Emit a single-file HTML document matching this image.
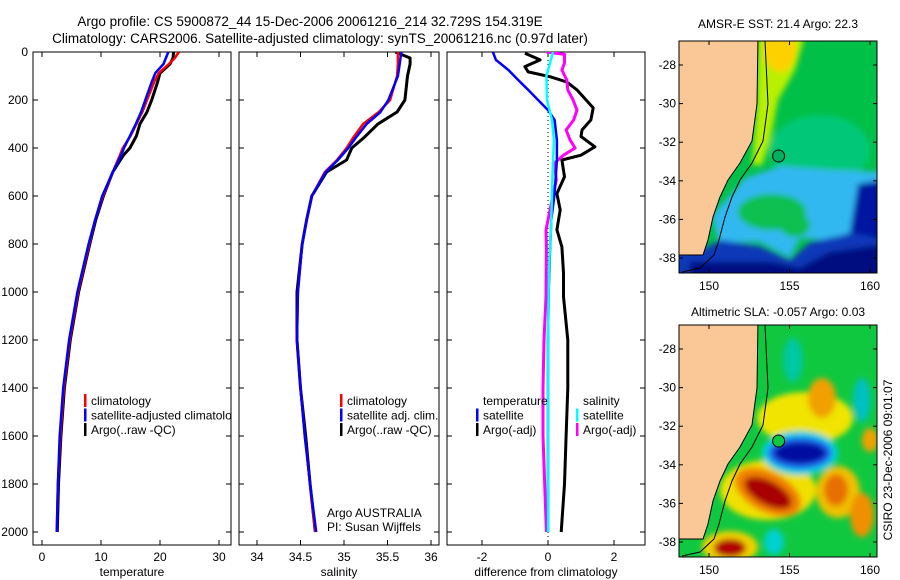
<!DOCTYPE html>
<html><head><meta charset="utf-8">
<style>
html,body{margin:0;padding:0;background:#fff;}
svg{display:block;font-family:"Liberation Sans",sans-serif;}
</style></head>
<body>
<svg id="fig" width="900" height="580" viewBox="0 0 900 580" xmlns="http://www.w3.org/2000/svg">
<defs>
<clipPath id="cp1"><rect x="33" y="52" width="198" height="493"/></clipPath>
<clipPath id="cp2"><rect x="239" y="52" width="200" height="493"/></clipPath>
<clipPath id="cp3"><rect x="447" y="52" width="198" height="493"/></clipPath>
<clipPath id="cm1"><rect x="679" y="41" width="198" height="232"/></clipPath>
<clipPath id="cm2"><rect x="679" y="325" width="198" height="232"/></clipPath>
<filter id="bl" x="-20%" y="-20%" width="140%" height="140%"><feGaussianBlur stdDeviation="3"/></filter>
</defs>
<text x="310" y="26" font-size="13.5" text-anchor="middle">Argo profile: CS 5900872_44 15-Dec-2006 20061216_214 32.729S 154.319E</text>
<text x="320" y="43" font-size="13.5" text-anchor="middle">Climatology: CARS2006. Satellite-adjusted climatology: synTS_20061216.nc (0.97d later)</text>

<!-- SST map -->
<g>
<text x="778" y="28" font-size="12" text-anchor="middle">AMSR-E SST: 21.4 Argo: 22.3</text>
<g clip-path="url(#cm1)">
<rect x="679" y="41" width="198" height="232" fill="#00c048"/>
<g filter="url(#bl)">
<ellipse cx="820" cy="150" rx="50" ry="35" fill="#00c878"/>
<polygon points="758,35 805,35 795,70 778,100 770,140 762,165 752,165 757,104" fill="#b8f000"/>
<ellipse cx="780" cy="50" rx="16" ry="22" fill="#ffd000"/>
<polygon points="745,178 780,166 830,170 885,172 885,245 800,238 790,258 760,242 718,242 712,215 735,190" fill="#30b8f0"/>
<ellipse cx="772" cy="212" rx="34" ry="18" fill="#10c050"/>
<ellipse cx="795" cy="225" rx="15" ry="12" fill="#10c050"/>
<polygon points="672,252 705,248 720,240 760,246 790,260 810,242 840,236 885,222 885,280 672,280" fill="#0838b8"/>
<polygon points="690,262 770,262 800,268 830,252 885,244 885,280 690,280" fill="#000c80"/>
<polygon points="858,184 885,180 885,240 850,232" fill="#0018a0"/>
</g>
<polygon points="672,35 758,35 757,104 752,141 740,163 728,180 720,197 713,217 708,240 703,255 679,255 672,255" fill="#fac896" stroke="#000" stroke-width="1"/>
<polyline points="765,41 768,104 763,141 752,163 740,180 732,197 725,217 719,240 714,255 700,268 682,272" fill="none" stroke="#000" stroke-width="1"/>
<circle cx="778.6" cy="156" r="6" fill="#00b060" stroke="#000" stroke-width="1"/>
</g>
<rect x="679" y="41" width="198" height="232" fill="none" stroke="#000" stroke-width="1"/>
</g>

<!-- SLA map -->
<g>
<text x="778" y="316" font-size="12" text-anchor="middle">Altimetric SLA: -0.057 Argo: 0.03</text>
<g clip-path="url(#cm2)">
<rect x="679" y="325" width="198" height="232" fill="#10c840"/>
<g filter="url(#bl)">
<ellipse cx="793" cy="360" rx="10" ry="22" fill="#00c8a0"/>
<ellipse cx="862" cy="400" rx="9" ry="22" fill="#00c0c0"/>
<ellipse cx="805" cy="418" rx="48" ry="26" fill="#f0e400"/>
<ellipse cx="822" cy="398" rx="14" ry="20" fill="#f0a000"/>
<ellipse cx="768" cy="490" rx="48" ry="30" fill="#f0e000"/>
<ellipse cx="768" cy="492" rx="36" ry="20" fill="#f08000" transform="rotate(28 768 492)"/>
<ellipse cx="768" cy="493" rx="26" ry="12" fill="#a80000" transform="rotate(28 768 493)"/>
<ellipse cx="838" cy="492" rx="22" ry="26" fill="#f0c000"/>
<ellipse cx="836" cy="490" rx="12" ry="16" fill="#e87000"/>
<ellipse cx="862" cy="515" rx="12" ry="22" fill="#f09000"/>
<ellipse cx="870" cy="440" rx="8" ry="12" fill="#f0a000"/>
<ellipse cx="730" cy="547" rx="28" ry="16" fill="#f0d000"/>
<ellipse cx="730" cy="548" rx="16" ry="9" fill="#b00000"/>
<ellipse cx="774" cy="542" rx="10" ry="13" fill="#00d0d0"/>
<ellipse cx="800" cy="453" rx="38" ry="22" fill="#00d0e0"/>
<ellipse cx="800" cy="453" rx="32" ry="16" fill="#2060f0"/>
<ellipse cx="800" cy="453" rx="26" ry="11" fill="#0010a0"/>
</g>
<polygon points="672,319 758,319 757,388 752,425 740,447 728,464 720,481 713,501 708,524 703,539 679,539 672,539" fill="#fac896" stroke="#000" stroke-width="1"/>
<polyline points="765,325 768,388 763,425 752,447 740,464 732,481 725,501 719,524 714,539 700,552 682,556" fill="none" stroke="#000" stroke-width="1"/>
<circle cx="778.6" cy="441" r="6" fill="#10c840" stroke="#000" stroke-width="1"/>
</g>
<rect x="679" y="325" width="198" height="232" fill="none" stroke="#000" stroke-width="1"/>
</g>
<text transform="translate(892,460) rotate(-90)" font-size="12" text-anchor="middle">CSIRO 23-Dec-2006 09:01:07</text>

<g id="axes"></g>
</svg>
<script>
// ---- data ----
var depthTicks = [0,200,400,600,800,1000,1200,1400,1600,1800,2000];
var tempTicks = [0,10,20,30];
var salTicks = [34,34.5,35,35.5,36];
var diffTicks = [-2,0,2];
var latTicks = [-28,-30,-32,-34,-36,-38];
var lonTicks = [150,155,160];

var tDepth = [0,25,50,88,125,200,250,300,350,400,430,500,600,700,800,1000,1200,1400,1600,1800,2000];
var tClim = [23.2,22.5,21.5,19.8,19.0,17.8,17.0,16.0,15.0,13.7,13.2,12.0,10.3,9.0,8.0,6.1,4.7,3.7,3.1,2.7,2.5];
var tSat  = [21.4,21.0,20.6,19.2,18.6,17.5,16.8,15.9,14.9,13.9,13.4,12.0,10.2,9.0,7.9,6.0,4.6,3.6,3.0,2.7,2.5];
var tArgo = [22.3,22.2,21.7,20.0,19.6,18.6,17.8,16.6,16.0,14.9,13.8,12.0,10.4,9.1,8.1,6.2,4.8,3.8,3.2,2.8,2.6];

var sDepth = [0,25,50,100,200,250,300,360,400,450,500,600,700,800,1000,1200,1400,1600,1800,2000];
var sClim = [35.62,35.62,35.62,35.61,35.53,35.40,35.22,35.10,35.03,34.92,34.78,34.63,34.57,34.52,34.47,34.46,34.50,34.55,34.61,34.67];
var sSat  = [35.66,35.65,35.64,35.62,35.51,35.42,35.26,35.13,35.05,34.93,34.79,34.63,34.57,34.52,34.47,34.46,34.50,34.55,34.61,34.68];
var sArgo = [35.59,35.76,35.76,35.73,35.70,35.61,35.39,35.22,35.09,35.03,34.80,34.63,34.57,34.52,34.46,34.46,34.50,34.56,34.61,34.67];

var dTempArgoDepth = [5,33,61,83,103,125,158,233,283,325,352,395,430,450,520,590,658,741,812,921,1020,1200,1400,1600,1800,2000];
var dTempArgo = [-0.7,-0.24,-0.7,-0.6,0.06,0.57,0.88,1.37,1.3,1.03,1.0,1.42,1.0,0.42,0.5,0.27,0.37,0.27,0.42,0.47,0.47,0.6,0.6,0.55,0.5,0.4];
var dTempSatDepth = [0,33,75,117,158,200,242,283,367,450,590,700,867,1000,1200,1400,1600,1800,2000];
var dTempSat = [-1.67,-1.58,-1.2,-0.9,-0.6,-0.3,0,0.2,0.27,0.27,0.2,0.1,0.05,0.02,0,0,0,0,0];
var dSalSatDepth = [0,100,200,283,367,500,700,900,1200,1500,2000];
var dSalSat = [0.15,-0.05,-0.03,0.12,0.18,0.14,0.1,0.03,0,0,0];
var dSalArgoDepth = [0,10,46,75,117,158,200,242,283,325,367,400,430,462,533,617,742,812,1020,1200,1400,1600,1800,2000];
var dSalArgo = [-0.05,0.5,0.5,0.42,0.57,0.6,0.76,0.88,0.78,0.55,0.67,0.82,0.47,0.2,0.25,0.12,-0.06,-0.05,-0.06,-0.12,-0.15,-0.15,-0.1,-0.05];

// ---- scales ----
function yD(d){ return 52 + d*0.24; }
function xT(t){ return 42 + t*5.9; }
function xS(s){ return 257 + (s-34)*87; }
function xDf(v){ return 548 + v*33; }
function yLat1(l){ return 65 + (-28 - l)*19.3; }
function yLat2(l){ return 349 + (-28 - l)*19.3; }
function xLon(l){ return 709 + (l-150)*16.1; }

var NS = "http://www.w3.org/2000/svg";
var root = document.getElementById('axes');
function mk(tag, attrs, parent){
  var e = document.createElementNS(NS, tag);
  for (var k in attrs) e.setAttribute(k, attrs[k]);
  (parent||root).appendChild(e); return e;
}
function txt(x,y,s,anchor,size,parent){
  var e = mk('text',{x:x,y:y,'font-size':size||12,'text-anchor':anchor||'middle'},parent);
  e.textContent = s; return e;
}
function panel(x0, w, xticks, xf, xlabel, name){
  var g = mk('g',{});
  
  
  mk('rect',{x:x0,y:52,width:w,height:493,fill:'none',stroke:'#000','stroke-width':1},g);
  depthTicks.forEach(function(d){
    mk('line',{x1:x0,x2:x0+5,y1:yD(d),y2:yD(d),stroke:'#000'},g);
    mk('line',{x1:x0+w-5,x2:x0+w,y1:yD(d),y2:yD(d),stroke:'#000'},g);
  });
  xticks.forEach(function(v){
    var x = xf(v);
    mk('line',{x1:x,x2:x,y1:52,y2:57,stroke:'#000'},g);
    mk('line',{x1:x,x2:x,y1:540,y2:545,stroke:'#000'},g);
    txt(x,561,String(v),'middle',12,g);
  });
  txt(x0+w/2,576,xlabel,'middle',12,g);
  return g;
}
panel(33,198,tempTicks,xT,'temperature','temperature-panel');
panel(239,200,salTicks,xS,'salinity','salinity-panel');
panel(447,198,diffTicks,xDf,'difference from climatology','difference-panel');
depthTicks.forEach(function(d){ txt(28,yD(d)+4,String(d),'end',12); });

function prof(vals, depths, xf, color, clip, name, w){
  var pts=[];
  for (var i=0;i<vals.length;i++) pts.push(xf(vals[i]).toFixed(1)+','+yD(depths[i]).toFixed(1));
  var p = mk('polyline',{points:pts.join(' '),fill:'none',stroke:color,'stroke-width':w||2.5,'stroke-linejoin':'round','clip-path':'url(#'+clip+')'});
  
  
}
prof(tArgo,tDepth,xT,'#000','cp1','temp-argo-line',3);
prof(tClim,tDepth,xT,'#f00','cp1','temp-climatology-line');
prof(tSat,tDepth,xT,'#00f','cp1','temp-satellite-line');
prof(sArgo,sDepth,xS,'#000','cp2','sal-argo-line',3);
prof(sClim,sDepth,xS,'#f00','cp2','sal-climatology-line');
prof(sSat,sDepth,xS,'#00f','cp2','sal-satellite-line');
var zl = mk('line',{x1:xDf(0),x2:xDf(0),y1:52,y2:545,stroke:'#000','stroke-dasharray':'1,3'});


prof(dTempArgo,dTempArgoDepth,xDf,'#000','cp3','diff-temp-argo-line',3);
prof(dSalArgo,dSalArgoDepth,xDf,'#f0f','cp3','diff-sal-argo-line',3);
prof(dTempSat,dTempSatDepth,xDf,'#00f','cp3','diff-temp-satellite-line');
prof(dSalSat,dSalSatDepth,xDf,'#0ff','cp3','diff-sal-satellite-line');

// legends
function legend(x, rows, clip, name){
  var g = mk('g',{'clip-path':'url(#'+clip+')'});
  
  
  rows.forEach(function(r,i){
    var y = 400 + i*14.5;
    if (r[1]) mk('rect',{x:x,y:y-6,width:2.5,height:13,fill:r[1]},g);
    txt(x+7,y+5,r[0],'start',12,g);
  });
}
legend(84,[['climatology','#f00'],['satellite-adjusted climatology','#00f'],['Argo(..raw -QC)','#000']],'cp1','temperature-legend');
legend(340,[['climatology','#f00'],['satellite adj. clim.','#00f'],['Argo(..raw -QC)','#000']],'cp2','salinity-legend');
legend(476,[['temperature',null],['satellite','#00f'],['Argo(-adj)','#000']],'cp3','diff-temperature-legend');
legend(576,[['salinity',null],['satellite','#0ff'],['Argo(-adj)','#f0f']],'cp3','diff-salinity-legend');
var a1 = txt(327,517,'Argo AUSTRALIA','start',12);  
var a2 = txt(327,531,'PI: Susan Wijffels','start',12);  

// map axes
function mapAxes(y0, yf, name){
  var g = mk('g',{});
  
  
  latTicks.forEach(function(l){
    var y = yf(l);
    mk('line',{x1:679,x2:683,y1:y,y2:y,stroke:'#000'},g);
    mk('line',{x1:873,x2:877,y1:y,y2:y,stroke:'#000'},g);
    txt(676,y+4,String(l),'end',12,g);
  });
  lonTicks.forEach(function(l){
    var x = xLon(l);
    mk('line',{x1:x,x2:x,y1:y0,y2:y0+4,stroke:'#000'},g);
    mk('line',{x1:x,x2:x,y1:y0+228,y2:y0+232,stroke:'#000'},g);
    txt(x,y0+249,String(l),'middle',12,g);
  });
}
mapAxes(41,yLat1,'sst-map-axes');
mapAxes(325,yLat2,'sla-map-axes');
</script>
</body></html>
